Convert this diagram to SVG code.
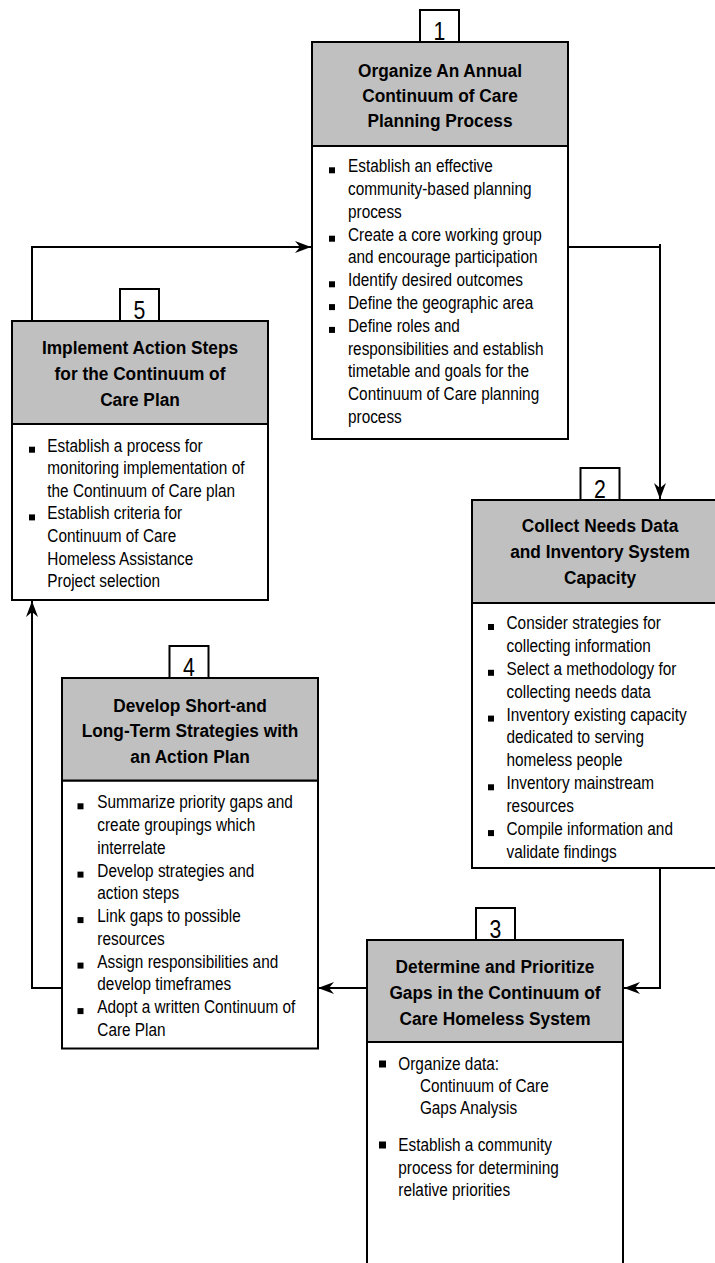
<svg xmlns="http://www.w3.org/2000/svg" width="715" height="1263" viewBox="0 0 715 1263">
<style>
.gray{fill:#c0c0c0;stroke:#000;stroke-width:2}
.white{fill:#fff;stroke:#000;stroke-width:2}
text{font-family:"Liberation Sans",Arial,sans-serif;fill:#000}
.title{font-weight:bold;font-size:19px;text-anchor:middle}
.body{font-size:18.5px}
.num{font-size:25px;text-anchor:middle}
.bullet{fill:#000}
.conn{fill:none;stroke:#000;stroke-width:2;marker-end:url(#arrow)}
</style>
<defs>
<marker id="arrow" markerUnits="userSpaceOnUse" viewBox="0 0 16 12" markerWidth="16" markerHeight="12" refX="16" refY="6" orient="auto">
<path d="M0,0 L16,6 L0,12 L5,6 Z" fill="#000"/>
</marker>
</defs>
<g id="connectors">
<path class="conn" d="M32,321 V247 H311"/>
<path class="conn" d="M568,247 H660 M660,244 V499"/>
<path class="conn" d="M660,868 V988 H624"/>
<path class="conn" d="M367,988 H318"/>
<path class="conn" d="M62,988 H32 V601"/>
</g>
<g id="node1">
<rect class="white" x="312" y="146" width="256" height="293"/>
<rect class="gray" x="312" y="42" width="256" height="104"/>
<rect class="white" x="420" y="10" width="39" height="32"/>
<text class="num" transform="translate(439.5,40) scale(0.85,1)">1</text>
<text class="title" transform="translate(440,0) scale(0.91,1)"><tspan x="0" y="77">Organize An Annual</tspan><tspan x="0" y="102">Continuum of Care</tspan><tspan x="0" y="127.5">Planning Process</tspan></text>
<rect class="bullet" x="329" y="167.3" width="6" height="6"/>
<rect class="bullet" x="329" y="235.7" width="6" height="6"/>
<rect class="bullet" x="329" y="281.3" width="6" height="6"/>
<rect class="bullet" x="329" y="304.1" width="6" height="6"/>
<rect class="bullet" x="329" y="326.9" width="6" height="6"/>
<text class="body" transform="translate(348,0) scale(0.83,1)"><tspan x="0" y="172.3">Establish an effective</tspan><tspan x="0" y="195.1">community-based planning</tspan><tspan x="0" y="217.9">process</tspan><tspan x="0" y="240.7">Create a core working group</tspan><tspan x="0" y="263.5">and encourage participation</tspan><tspan x="0" y="286.3">Identify desired outcomes</tspan><tspan x="0" y="309.1">Define the geographic area</tspan><tspan x="0" y="331.9">Define roles and</tspan><tspan x="0" y="354.7">responsibilities and establish</tspan><tspan x="0" y="377.5">timetable and goals for the</tspan><tspan x="0" y="400.3">Continuum of Care planning</tspan><tspan x="0" y="423.1">process</tspan></text>
</g>
<g id="node2">
<rect class="white" x="472" y="603" width="256" height="265"/>
<rect class="gray" x="472" y="500" width="256" height="103"/>
<rect class="white" x="580.5" y="468" width="39" height="32"/>
<text class="num" transform="translate(600,498) scale(0.85,1)">2</text>
<text class="title" transform="translate(600,0) scale(0.91,1)"><tspan x="0" y="532.5">Collect Needs Data</tspan><tspan x="0" y="558.5">and Inventory System</tspan><tspan x="0" y="584.5">Capacity</tspan></text>
<rect class="bullet" x="488" y="624" width="6" height="6"/>
<rect class="bullet" x="488" y="669.8" width="6" height="6"/>
<rect class="bullet" x="488" y="715.6" width="6" height="6"/>
<rect class="bullet" x="488" y="784.3" width="6" height="6"/>
<rect class="bullet" x="488" y="830.1" width="6" height="6"/>
<text class="body" transform="translate(506.5,0) scale(0.83,1)"><tspan x="0" y="629">Consider strategies for</tspan><tspan x="0" y="651.9">collecting information</tspan><tspan x="0" y="674.8">Select a methodology for</tspan><tspan x="0" y="697.7">collecting needs data</tspan><tspan x="0" y="720.6">Inventory existing capacity</tspan><tspan x="0" y="743.5">dedicated to serving</tspan><tspan x="0" y="766.4">homeless people</tspan><tspan x="0" y="789.3">Inventory mainstream</tspan><tspan x="0" y="812.2">resources</tspan><tspan x="0" y="835.1">Compile information and</tspan><tspan x="0" y="858">validate findings</tspan></text>
</g>
<g id="node3">
<rect class="white" x="367" y="1042" width="256" height="240"/>
<rect class="gray" x="367" y="940" width="256" height="102"/>
<rect class="white" x="476" y="908" width="39" height="32"/>
<text class="num" transform="translate(495.5,938) scale(0.85,1)">3</text>
<text class="title" transform="translate(495,0) scale(0.91,1)"><tspan x="0" y="973">Determine and Prioritize</tspan><tspan x="0" y="999">Gaps in the Continuum of</tspan><tspan x="0" y="1025">Care Homeless System</tspan></text>
<rect class="bullet" x="379" y="1060.5" width="7" height="7"/>
<rect class="bullet" x="379" y="1141.5" width="7" height="7"/>
<text class="body" transform="translate(398.3,0) scale(0.83,1)"><tspan x="0" y="1070">Organize data:</tspan><tspan x="26" y="1092">Continuum of Care</tspan><tspan x="26" y="1114.5">Gaps Analysis</tspan><tspan x="0" y="1151.5">Establish a community</tspan><tspan x="0" y="1174">process for determining</tspan><tspan x="0" y="1196.5">relative priorities</tspan></text>
</g>
<g id="node4">
<rect class="white" x="62" y="780.5" width="256" height="268"/>
<rect class="gray" x="62" y="678" width="256" height="102.5"/>
<rect class="white" x="169.5" y="646" width="39" height="32"/>
<text class="num" transform="translate(189,676) scale(0.85,1)">4</text>
<text class="title" transform="translate(190,0) scale(0.91,1)"><tspan x="0" y="712.3">Develop Short-and</tspan><tspan x="0" y="737.5">Long-Term Strategies with</tspan><tspan x="0" y="762.7">an Action Plan</tspan></text>
<rect class="bullet" x="77.5" y="803.3" width="6" height="6"/>
<rect class="bullet" x="77.5" y="871.6" width="6" height="6"/>
<rect class="bullet" x="77.5" y="917.1" width="6" height="6"/>
<rect class="bullet" x="77.5" y="962.6" width="6" height="6"/>
<rect class="bullet" x="77.5" y="1008.1" width="6" height="6"/>
<text class="body" transform="translate(97.3,0) scale(0.83,1)"><tspan x="0" y="808.3">Summarize priority gaps and</tspan><tspan x="0" y="831">create groupings which</tspan><tspan x="0" y="853.8">interrelate</tspan><tspan x="0" y="876.6">Develop strategies and</tspan><tspan x="0" y="899.3">action steps</tspan><tspan x="0" y="922.1">Link gaps to possible</tspan><tspan x="0" y="944.8">resources</tspan><tspan x="0" y="967.6">Assign responsibilities and</tspan><tspan x="0" y="990.3">develop timeframes</tspan><tspan x="0" y="1013.1">Adopt a written Continuum of</tspan><tspan x="0" y="1035.8">Care Plan</tspan></text>
</g>
<g id="node5">
<rect class="white" x="12" y="424" width="256" height="176"/>
<rect class="gray" x="12" y="321" width="256" height="103"/>
<rect class="white" x="120" y="289" width="39" height="32"/>
<text class="num" transform="translate(139.5,319) scale(0.85,1)">5</text>
<text class="title" transform="translate(140,0) scale(0.91,1)"><tspan x="0" y="354.3">Implement Action Steps</tspan><tspan x="0" y="380">for the Continuum of</tspan><tspan x="0" y="405.7">Care Plan</tspan></text>
<rect class="bullet" x="29" y="446.7" width="6" height="6"/>
<rect class="bullet" x="29" y="514.4" width="6" height="6"/>
<text class="body" transform="translate(47.3,0) scale(0.83,1)"><tspan x="0" y="451.7">Establish a process for</tspan><tspan x="0" y="474.3">monitoring implementation of</tspan><tspan x="0" y="496.9">the Continuum of Care plan</tspan><tspan x="0" y="519.4">Establish criteria for</tspan><tspan x="0" y="542">Continuum of Care</tspan><tspan x="0" y="564.6">Homeless Assistance</tspan><tspan x="0" y="587.1">Project selection</tspan></text>
</g>
</svg>
